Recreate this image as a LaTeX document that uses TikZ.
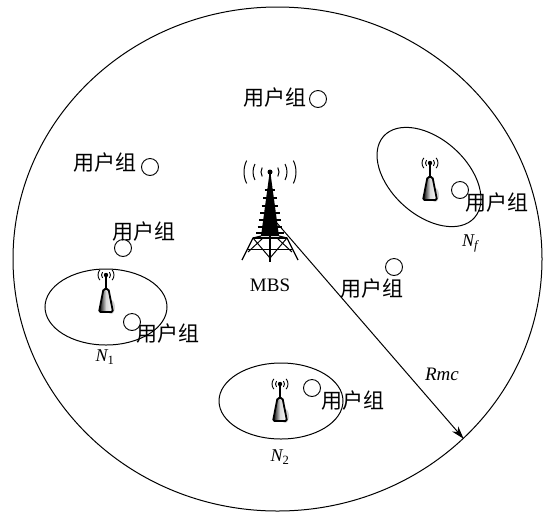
\documentclass[tikz,border=0pt]{standalone}
\usepackage{fontspec}
\setmainfont{Liberation Serif}
\newfontfamily\cjk{Noto Sans CJK SC}
\usetikzlibrary{shapes.geometric,arrows.meta}

\tikzset{
  usergroup/.style={draw, circle, minimum size=17pt, inner sep=0pt, line width=0.9pt},
  cellrim/.style={draw, ellipse, inner sep=0pt, line width=1pt},
  grouptext/.style={font=\cjk\fontsize{21}{23}\selectfont, inner sep=0pt},
  celltext/.style={font=\fontsize{18}{20}\selectfont, inner sep=0pt},
}

% small base station: waves, mast and body, #1 = top of the antenna
\newcommand{\femtoap}[1]{%
  \begin{scope}[shift={(#1)}]
    \fill[gray!35] (5,32) ellipse [x radius=4, y radius=7];
    \draw[line width=1.8pt, rounded corners=1.5pt, left color=black, right color=white, middle color=gray!30]
      (-2.5,14) -- (2.5,14) -- (7,37) -- (-7,37) -- cycle;
    \draw[line width=1.6pt] (0,0) -- (0,14);
    \fill (0,0) circle [radius=2.2];
    \foreach \r in {4.5,8} {
      \draw[line width=0.9pt] (0,0) ++(-40:\r) arc [start angle=-40, end angle=40, radius=\r];
      \draw[line width=0.9pt] (0,0) ++(140:\r) arc [start angle=140, end angle=220, radius=\r];
    }
  \end{scope}}

\begin{document}
\begin{tikzpicture}[x=1pt, y=-1pt]
\useasboundingbox (0,0) rectangle (543,512);

% macro cell
\node[cellrim, minimum width=529pt, minimum height=504pt] (cell) at (277.5,259) {};

% small cells
\node[cellrim, minimum width=122pt, minimum height=76pt] (n1) at (106,307) {};
\node[cellrim, minimum width=124pt, minimum height=76pt] (n2) at (281,401) {};
\node[cellrim, minimum width=122pt, minimum height=76pt, rotate=-42] (nf) at (429,177) {};

\node[celltext] at (105,357) {{\itshape N}\textsubscript{1}};
\node[celltext] at (280,457) {{\itshape N}\textsubscript{2}};
\node[celltext] at (470,243) {{\itshape N}\textsubscript{\itshape f}};

% coverage radius
\coordinate (mbs) at (270,215);
\draw[line width=1pt, -{Stealth[length=13pt, width=8pt]}] (mbs) -- (cell.-44);
\node[font=\fontsize{19}{21}\selectfont\itshape, inner sep=0pt] (rmc) at (442,374) {Rmc};

% macro base station tower
\begin{scope}[shift={(270,172)}]
  \foreach \r/\a in {9/30, 17/28, 26/26} {
    \draw[line width=1pt] (0,0) ++(-\a:\r) arc [start angle=-\a, end angle=\a, radius=\r];
    \draw[line width=1pt] (0,0) ++(180-\a:\r) arc [start angle=180-\a, end angle=180+\a, radius=\r];
  }
  \fill (0,0) circle [radius=2.5];
  \draw[line width=1.2pt] (0,0) -- (0,6);
  \fill (-1,5) -- (1,5) -- (9,64) -- (-9,64) -- cycle;
  \foreach \y in {18,26,34,41,48,55,61} {
    \draw[line width=1.6pt] ({-2-0.19*\y},\y) -- ({2+0.19*\y},\y);
  }
  \draw[line width=1.8pt] (-17,66) -- (17,66);
  \draw[line width=1.2pt] (-9,64) -- (-17,66) -- (-28,88) (9,64) -- (17,66) -- (28,88);
  \draw[line width=1.2pt] (0,64) -- (0,90);
  \draw[line width=1pt] (-17,66) -- (0,86) -- (17,66);
  \draw[line width=1pt] (-7,66) -- (-22,80) (7,66) -- (22,80);
  \draw[line width=1pt] (-23,77) -- (23,77);
\end{scope}
\node[font=\fontsize{19}{21}\selectfont, inner sep=0pt] (mbslabel) at (270,285) {MBS};

% small base stations
\femtoap{106,275}
\femtoap{280,384}
\femtoap{430,163}

% user groups
\node[usergroup] (u1) at (318,99) {};
\node[grouptext] at (275,98) {用户组};
\node[usergroup] (u2) at (150,167) {};
\node[grouptext] at (105,163) {用户组};
\node[usergroup] (u3) at (123,248) {};
\node[grouptext] at (144,232) {用户组};
\node[usergroup] (u4) at (394,267) {};
\node[grouptext] at (372,289) {用户组};
\node[usergroup] (u5) at (132,322) {};
\node[grouptext] at (168,334) {用户组};
\node[usergroup] (u6) at (312,388) {};
\node[grouptext] at (353,401) {用户组};
\node[usergroup] (u7) at (460,190) {};
\node[grouptext] at (497,203) {用户组};
\end{tikzpicture}
\end{document}
